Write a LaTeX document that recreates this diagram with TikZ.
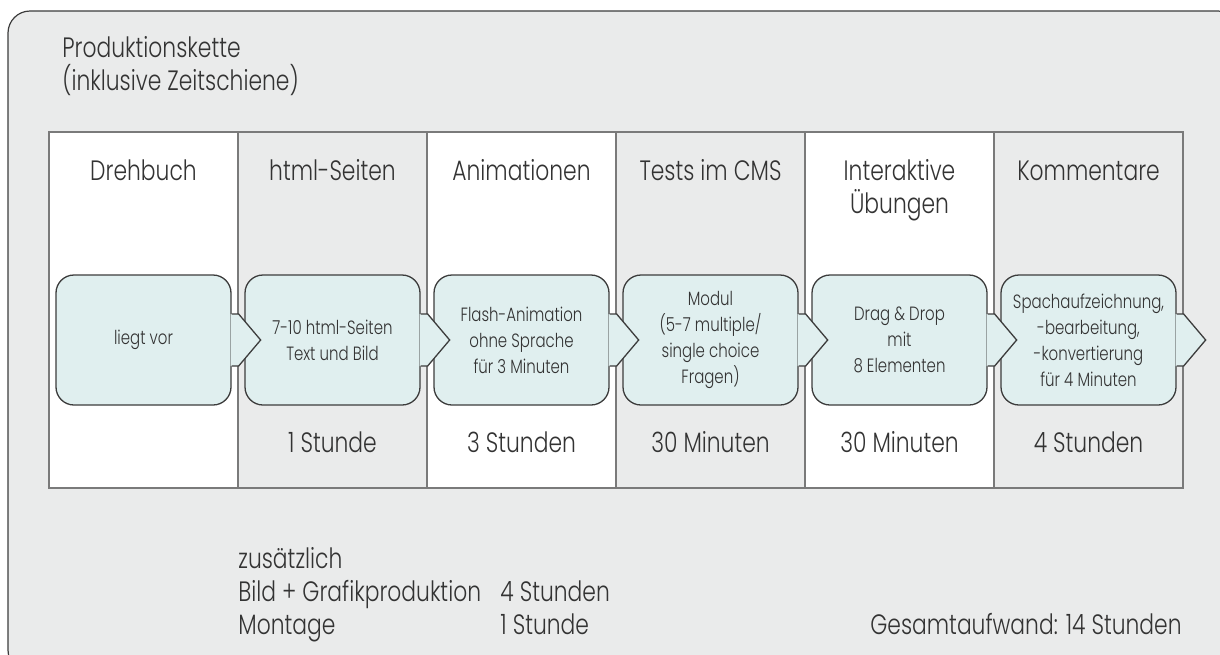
\documentclass[tikz,border=0pt]{standalone}
\usepackage{fontspec}
\setmainfont{Poppins}[UprightFont=* Light,FakeStretch=0.78]
\usetikzlibrary{positioning}
\definecolor{panelgray}{HTML}{EAEBEB}
\definecolor{boxcyan}{HTML}{E0EFEF}
\definecolor{inkgray}{HTML}{333333}
\definecolor{edgegray}{HTML}{3C3C3C}
\definecolor{rulegray}{HTML}{7A7A7A}
\begin{document}
\begin{tikzpicture}
  [x=0.5pt,y=-0.5pt,
   every node/.style={text=inkgray,inner sep=0pt},
   bigtext/.style={font=\fontsize{14}{16.5}\selectfont},
   colhead/.style={bigtext,anchor=base,align=center},
   note/.style={bigtext,anchor=base west},
   colrule/.style={draw=rulegray,line width=0.75pt},
   stepbox/.style={draw=edgegray,fill=boxcyan,line width=0.65pt,rounded corners=9pt,
     minimum width=87.5pt,minimum height=65pt,align=center,
     font=\fontsize{9.6}{13}\selectfont},
   tipline/.style={draw=edgegray,line width=0.65pt}]
  \useasboundingbox (0,0) rectangle (1220,654);
  \begin{scope}
    \clip (0,0) rectangle (1220,654);
    \draw[draw=edgegray,fill=panelgray,line width=0.6pt,rounded corners=11pt]
      (8,11) rectangle (1240,672);
  \end{scope}

  \node[note] (title) at (62,57) {Produktionskette};
  \node[note] (subtitle) at (62,90) {(inklusive Zeitschiene)};

  \foreach \i/\c in {0/white,1/panelgray,2/white,3/panelgray,4/white,5/panelgray}
    \fill[\c] (49+189*\i,132) rectangle ++(189,356);
  \foreach \i in {1,...,5}
    \draw[colrule] (49+189*\i,132) -- ++(0,356);
  \draw[colrule] (49,132) rectangle (1183,488);

  \node[colhead] (h1) at (143.5,180) {Drehbuch};
  \node[colhead] (h2) at (332.5,180) {html-Seiten};
  \node[colhead] (h3) at (521.5,180) {Animationen};
  \node[colhead] (h4) at (710.5,180) {Tests im CMS};
  \node[colhead] (h5) at (899.5,213) {Interaktive\\Übungen};
  \node[colhead] (h6) at (1088.5,180) {Kommentare};

  \node[stepbox] (s1) at (143.5,340) {liegt vor};
  \node[stepbox] (s2) at (332.5,340) {7-10 html-Seiten\\Text und Bild};
  \node[stepbox] (s3) at (521.5,340) {Flash-Animation\\ohne Sprache\\für 3 Minuten};
  \node[stepbox] (s4) at (710.5,340) {Modul\\(5-7 multiple/\\single choice\\Fragen)};
  \node[stepbox] (s5) at (899.5,340) {Drag \& Drop\\mit\\8 Elementen};
  \node[stepbox] (s6) at (1088.5,340) {Spachaufzeichnung,\\-bearbeitung,\\-konvertierung\\für 4 Minuten};

  \foreach \s in {s1,s2,s3,s4,s5,s6} {
    \fill[boxcyan] ([xshift=-0.5pt]\s.east) ++(0,-26) -- ++(8,0) -- ++(22,26)
      -- ++(-22,26) -- ++(-8,0) -- cycle;
    \draw[tipline] (\s.east) ++(0,-26) -- ++(7,0) -- ++(22,26) -- ++(-22,26) -- ++(-7,0);
  }

  \node[colhead] (t2) at (332.5,452) {1 Stunde};
  \node[colhead] (t3) at (521.5,452) {3 Stunden};
  \node[colhead] (t4) at (710.5,452) {30 Minuten};
  \node[colhead] (t5) at (899.5,452) {30 Minuten};
  \node[colhead] (t6) at (1088.5,452) {4 Stunden};

  \node[note] (extra) at (238,568) {zusätzlich};
  \node[note] (bild) at (238,601) {Bild + Grafikproduktion};
  \node[note] (montage) at (238,634) {Montage};
  \node[note] (bildtime) at (500,601) {4 Stunden};
  \node[note] (montagetime) at (500,634) {1 Stunde};
  \node[note,anchor=base east] (total) at (1182,634) {Gesamtaufwand: 14 Stunden};
\end{tikzpicture}
\end{document}
